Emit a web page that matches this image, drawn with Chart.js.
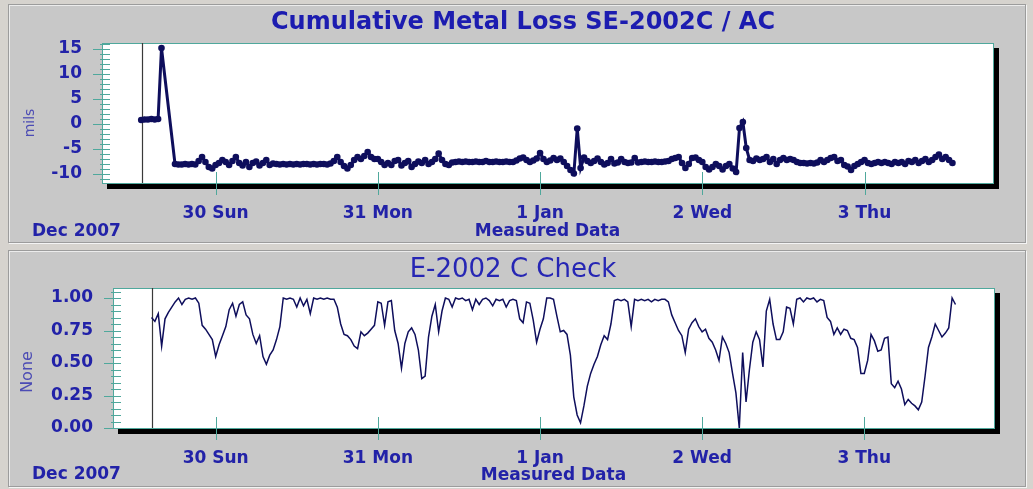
<!DOCTYPE html>
<html>
<head>
<meta charset="utf-8">
<script src="https://cdn.jsdelivr.net/npm/chart.js@4.4.1/dist/chart.umd.min.js"></script>
<style>
  body { margin: 0; width: 1033px; height: 489px; background: #d6d3ce; position: relative; overflow: hidden; }
  .panel { position: absolute; background: #c8c8c8; border: 1px solid #9c9c9c; box-shadow: 1px 1px 0 #f4f4f4, inset 1px 1px 0 #ececec; }
  canvas { position: absolute; left: 0; }
</style>
</head>
<body>
<div class="panel" style="left:8px;top:4px;width:1016px;height:237px"></div>
<div class="panel" style="left:8px;top:250px;width:1016px;height:235px"></div>
<canvas id="graficoPerda" width="1033" height="245" style="top:0"></canvas>
<canvas id="graficoCheck" width="1033" height="244" style="top:245px"></canvas>
<script>
// hours counted from 30 Dec 2007 00:00
const dayHours = [0, 24, 48, 72, 96];
const dayLabels = ['30 Sun', '31 Mon', '1 Jan', '2 Wed', '3 Thu'];
const lossTicks = [-10, -5, 0, 5, 10, 15];
const checkTicks = [0, 0.25, 0.5, 0.75, 1];

// Cumulative Metal Loss (mils), one reading every half hour
const lossStart = -11.0;
const lossStep = 0.5;
const lossMarker = -10.9;
const lossValues = [
  0.8, 0.9, 0.9, 1.0, 0.9, 1.0, 15.2, null, null, null,
  -8.0, -8.1, -8.1, -8.0, -8.1, -8.0, -8.1, -7.4, -6.6, -7.6,
  -8.6, -8.9, -8.2, -7.8, -7.2, -7.6, -8.2, -7.4, -6.6, -7.8,
  -8.3, -7.6, -8.6, -7.8, -7.5, -8.3, -7.8, -7.2, -8.2, -7.9,
  -8.0, -8.1, -8.0, -8.1, -8.0, -8.1, -8.0, -8.1, -8.0, -8.0,
  -8.1, -8.0, -8.1, -8.0, -8.0, -8.1, -7.9, -7.4, -6.6, -7.6,
  -8.4, -8.9, -8.2, -7.2, -6.6, -7.0, -6.4, -5.6, -6.6, -7.0,
  -7.0, -7.6, -8.2, -7.8, -8.2, -7.4, -7.2, -8.3, -7.8, -7.4,
  -8.6, -8.0, -7.5, -7.8, -7.2, -8.0, -7.6, -7.0, -5.9, -7.2,
  -8.0, -8.2, -7.7, -7.6, -7.5, -7.6, -7.5, -7.6, -7.6, -7.5,
  -7.6, -7.6, -7.4, -7.6, -7.6, -7.5, -7.6, -7.6, -7.5, -7.6,
  -7.6, -7.3, -6.9, -6.7, -7.2, -7.6, -7.3, -6.9, -5.8, -7.0,
  -7.6, -7.3, -6.8, -7.2, -6.9, -7.6, -8.4, -9.2, -9.9, -0.9,
  -8.8, -6.7, -7.4, -7.8, -7.4, -6.9, -7.6, -8.1, -7.8, -7.0,
  -7.9, -7.7, -7.0, -7.6, -7.8, -7.7, -6.8, -7.7, -7.6, -7.5,
  -7.6, -7.6, -7.5, -7.6, -7.6, -7.5, -7.4, -7.0, -6.8, -6.6,
  -7.8, -8.8, -8.0, -6.8, -6.7, -7.2, -7.6, -8.6, -9.1, -8.6,
  -8.0, -8.4, -9.1, -8.4, -8.0, -8.9, -9.6, -0.8, 0.4, -4.8,
  -7.2, -7.4, -6.9, -7.2, -7.0, -6.6, -7.6, -7.0, -8.0, -7.2,
  -6.8, -7.2, -7.0, -7.2, -7.6, -7.8, -7.8, -7.9, -7.8, -7.9,
  -7.7, -7.2, -7.6, -7.2, -6.8, -6.6, -7.4, -7.2, -8.2, -8.5,
  -9.2, -8.4, -8.0, -7.6, -7.2, -7.8, -8.0, -7.8, -7.6, -7.8,
  -7.6, -7.8, -8.0, -7.6, -7.8, -7.6, -8.0, -7.4, -7.6, -7.2,
  -7.8, -7.4, -7.0, -7.6, -7.2, -6.6, -6.1, -7.0, -6.6, -7.2,
  -7.8
];

// E-2002 C Check, one reading every half hour
const checkStart = -9.5;
const checkStep = 0.5;
const checkMarker = -9.5;
const checkValues = [
  0.85, 0.82, 0.88, 0.63, 0.84, 0.89, 0.93, 0.97, 1.0, 0.95,
  0.99, 1.0, 0.99, 1.0, 0.96, 0.79, 0.76, 0.72, 0.68, 0.55,
  0.64, 0.71, 0.78, 0.91, 0.96, 0.86, 0.95, 0.97, 0.87, 0.84,
  0.72, 0.65, 0.71, 0.55, 0.49, 0.56, 0.60, 0.68, 0.78, 1.0,
  0.99, 1.0, 0.99, 0.93, 1.0, 0.94, 0.99, 0.88, 1.0, 0.99,
  1.0, 0.99, 1.0, 0.99, 0.99, 0.93, 0.80, 0.72, 0.71, 0.68,
  0.63, 0.61, 0.74, 0.71, 0.73, 0.76, 0.79, 0.97, 0.96, 0.79,
  0.97, 0.98, 0.75, 0.65, 0.46, 0.65, 0.74, 0.77, 0.72, 0.60,
  0.38, 0.40, 0.70, 0.86, 0.95, 0.74, 0.90, 1.0, 0.99, 0.93,
  1.0, 0.99, 1.0, 0.98, 0.99, 0.91, 0.99, 0.95, 0.99, 1.0,
  0.98, 0.94, 0.99, 0.98, 0.99, 0.93, 0.98, 0.99, 0.98, 0.84,
  0.81, 0.97, 0.96, 0.83, 0.66, 0.76, 0.84, 1.0, 1.0, 0.99,
  0.86, 0.74, 0.75, 0.72, 0.56, 0.24, 0.10, 0.04, 0.17, 0.32,
  0.42, 0.49, 0.55, 0.64, 0.71, 0.68, 0.80, 0.98, 0.99, 0.98,
  0.99, 0.97, 0.78, 0.99, 0.98, 0.99, 0.98, 0.99, 0.97, 0.99,
  0.98, 0.99, 0.99, 0.97, 0.87, 0.81, 0.75, 0.71, 0.58, 0.76,
  0.81, 0.84, 0.78, 0.74, 0.76, 0.69, 0.66, 0.60, 0.52, 0.70,
  0.65, 0.58, 0.42, 0.27, 0.0, 0.58, 0.20, 0.45, 0.66, 0.74,
  0.68, 0.47, 0.90, 0.99, 0.80, 0.68, 0.68, 0.74, 0.93, 0.92,
  0.80, 0.99, 1.0, 0.97, 1.0, 0.99, 1.0, 0.97, 0.99, 0.98,
  0.85, 0.82, 0.72, 0.77, 0.72, 0.76, 0.75, 0.69, 0.68, 0.62,
  0.42, 0.42, 0.52, 0.72, 0.67, 0.59, 0.60, 0.69, 0.70, 0.34,
  0.31, 0.36, 0.30, 0.18, 0.22, 0.19, 0.17, 0.14, 0.20, 0.40,
  0.62, 0.70, 0.80, 0.75, 0.70, 0.73, 0.77, 1.0, 0.95
];

const azul = '#2222a8';
const marinho = '#0e0e5c';
const verdeAgua = '#4fa89c';
const fonte = 'DejaVu Sans';

function pontos(inicio, passo, valores) {
  return valores.map((v, i) => ({ x: inicio + i * passo, y: v }));
}

// white plot area, teal frame, black shadow, ruler ticks and the texts round it
const moldura = {
  id: 'moldura',
  beforeDraw(chart, args, o) {
    const { ctx, chartArea: a } = chart;
    ctx.save();
    ctx.fillStyle = '#000';
    ctx.fillRect(a.right + 1, a.top + 5, 5, a.bottom - a.top + 1);
    ctx.fillRect(a.left + 5, a.bottom + 1, a.right - a.left + 1, 5);
    ctx.fillStyle = '#fff';
    ctx.fillRect(a.left, a.top, a.right - a.left, a.bottom - a.top);
    ctx.strokeStyle = verdeAgua;
    ctx.lineWidth = 1;
    ctx.strokeRect(a.left + 0.5, a.top + 0.5, a.right - a.left, a.bottom - a.top);
    ctx.restore();
  },
  beforeDatasetsDraw(chart, args, o) {
    const { ctx, chartArea: a, scales } = chart;
    const x = Math.round(scales.x.getPixelForValue(o.marcador)) + 0.5;
    ctx.save();
    ctx.strokeStyle = '#3a3a3a';
    ctx.lineWidth = 1.2;
    ctx.beginPath();
    ctx.moveTo(x, a.top);
    ctx.lineTo(x, a.bottom);
    ctx.stroke();
    ctx.restore();
  },
  afterDraw(chart, args, o) {
    const { ctx, chartArea: a, scales } = chart;
    ctx.save();
    ctx.strokeStyle = verdeAgua;
    ctx.lineWidth = 1;
    ctx.beginPath();
    for (let v = o.menorInicio; v <= o.menorFim + 1e-9; v += o.menorPasso) {
      const y = Math.round(scales.y.getPixelForValue(v)) + 0.5;
      ctx.moveTo(a.left - 2, y);
      ctx.lineTo(a.left + 8, y);
    }
    scales.y.ticks.forEach(t => {
      const y = Math.round(scales.y.getPixelForValue(t.value)) + 0.5;
      ctx.moveTo(a.left - 9, y);
      ctx.lineTo(a.left + 8, y);
    });
    scales.x.ticks.forEach(t => {
      const x = Math.round(scales.x.getPixelForValue(t.value)) + 0.5;
      ctx.moveTo(x, a.bottom - 11);
      ctx.lineTo(x, a.bottom + 12);
    });
    ctx.stroke();

    ctx.fillStyle = o.corTitulo;
    ctx.font = o.fonteTitulo;
    ctx.textAlign = 'center';
    ctx.textBaseline = 'middle';
    ctx.fillText(o.titulo, o.tituloX, o.tituloY);

    ctx.fillStyle = azul;
    ctx.font = 'bold 17px ' + fonte;
    ctx.textAlign = 'left';
    ctx.fillText('Dec 2007', 32, o.mesY);

    ctx.translate(o.eixoX, (a.top + a.bottom) / 2 + o.eixoDesvio);
    ctx.rotate(-Math.PI / 2);
    ctx.fillStyle = '#4c4cb4';
    ctx.font = o.fonteEixo;
    ctx.textAlign = 'center';
    ctx.fillText(o.eixo, 0, 0);
    ctx.restore();
  }
};

function opcoesEscalas(xMin, xMax, yMin, yMax, yTicks, yLargura, formato) {
  return {
    x: {
      type: 'linear', min: xMin, max: xMax,
      afterBuildTicks: s => { s.ticks = dayHours.map(v => ({ value: v })); },
      afterFit: s => { s.height = s.chart.height - 183; },
      grid: { display: false, drawTicks: false, tickLength: 0 },
      border: { display: false },
      ticks: {
        autoSkip: false, maxRotation: 0, padding: 20, color: azul,
        font: { family: fonte, size: 17, weight: 'bold' },
        callback: (v, i) => dayLabels[i]
      },
      title: {
        display: true, text: 'Measured Data', color: azul,
        font: { family: fonte, size: 17, weight: 'bold' },
        padding: { top: 0, bottom: 3 }
      }
    },
    y: {
      min: yMin, max: yMax,
      afterBuildTicks: s => { s.ticks = yTicks.map(v => ({ value: v })); },
      afterFit: s => { s.width = yLargura; },
      grid: { display: false, drawTicks: false, tickLength: 0 },
      border: { display: false },
      ticks: {
        padding: 20, color: azul,
        font: { family: fonte, size: 17, weight: 'bold' },
        callback: formato
      }
    }
  };
}

new Chart(document.querySelector('#graficoPerda'), {
  type: 'line',
  data: {
    datasets: [{
      label: 'Cumulative Metal Loss',
      data: pontos(lossStart, lossStep, lossValues),
      borderColor: marinho,
      borderWidth: 3,
      pointRadius: 3.3,
      pointBorderWidth: 0,
      pointBackgroundColor: marinho,
      spanGaps: true,
      segment: { borderWidth: c => (c.p1DataIndex - c.p0DataIndex > 1 ? 1.5 : undefined) }
    }]
  },
  options: {
    responsive: false,
    animation: false,
    devicePixelRatio: 1,
    layout: { padding: { top: 43, right: 40, left: 0, bottom: 0 } },
    scales: opcoesEscalas(-16.8, 115.0, -11.8, 16.2, lossTicks, 102, v => String(v)),
    plugins: {
      legend: { display: false },
      tooltip: { enabled: false },
      moldura: {
        marcador: lossMarker,
        menorInicio: -11, menorFim: 16, menorPasso: 1,
        titulo: 'Cumulative Metal Loss SE-2002C / AC',
        fonteTitulo: 'bold 24px ' + fonte, corTitulo: '#1c1cb0',
        tituloX: 523, tituloY: 23, mesY: 232,
        eixo: 'mils', fonteEixo: '14px ' + fonte, eixoX: 30, eixoDesvio: 10
      }
    }
  },
  plugins: [moldura]
});

new Chart(document.querySelector('#graficoCheck'), {
  type: 'line',
  data: {
    datasets: [{
      label: 'E-2002 C Check',
      data: pontos(checkStart, checkStep, checkValues),
      borderColor: marinho,
      borderWidth: 1.5,
      pointRadius: 0
    }]
  },
  options: {
    responsive: false,
    animation: false,
    devicePixelRatio: 1,
    layout: { padding: { top: 43, right: 39, left: 0, bottom: 0 } },
    scales: opcoesEscalas(-15.2, 115.2, 0, 1.077, checkTicks, 113, v => v.toFixed(2)),
    plugins: {
      legend: { display: false },
      tooltip: { enabled: false },
      moldura: {
        marcador: checkMarker,
        menorInicio: 0, menorFim: 1.05, menorPasso: 0.05,
        titulo: 'E-2002 C Check',
        fonteTitulo: '26px ' + fonte, corTitulo: '#2626b4',
        tituloX: 513, tituloY: 25, mesY: 230,
        eixo: 'None', fonteEixo: '16px ' + fonte, eixoX: 28, eixoDesvio: 14
      }
    }
  },
  plugins: [moldura]
});
</script>
</body>
</html>
